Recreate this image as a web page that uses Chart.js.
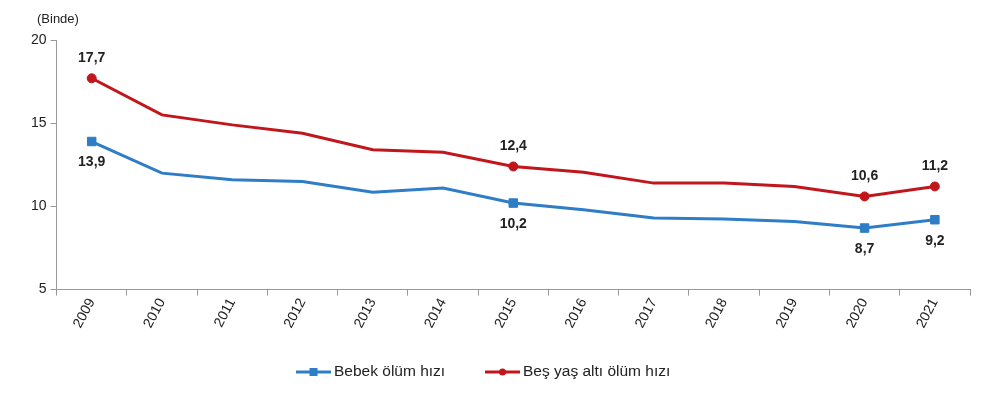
<!DOCTYPE html>
<html><head><meta charset="utf-8">
<script src="https://cdn.jsdelivr.net/npm/chart.js@4.4.1/dist/chart.umd.min.js"></script>
<style>html,body{margin:0;padding:0;background:#fff}#wrap{width:1000px;height:396px}</style>
</head><body><div id="wrap"><canvas id="c"></canvas></div>
<script>
const years = ['2009','2010','2011','2012','2013','2014','2015','2016','2017','2018','2019','2020','2021'];
const bebek = [13.9,12.0,11.6,11.5,10.85,11.1,10.2,9.8,9.3,9.25,9.1,8.7,9.2];
const besYas = [17.7,15.5,14.9,14.4,13.4,13.25,12.4,12.05,11.4,11.4,11.2,10.6,11.2];
const labeledIdx = [0,6,11,12];
const yTicks = [5,10,15,20];
const unitLabel = '(Binde)';
const seriesNames = ['Bebek ölüm hızı','Beş yaş altı ölüm hızı'];

const BLUE = '#2e7dc6', RED = '#c0161c';
const FONT = "'Liberation Sans', Arial, sans-serif";
const radiiB = years.map((_,i)=> labeledIdx.includes(i) ? 6 : 0);
const radiiR = years.map((_,i)=> labeledIdx.includes(i) ? 4.5 : 0);

const extras = {
  id:'extras',
  afterDatasetsDraw(chart){
    const ctx = chart.ctx;
    ctx.save();
    ctx.font = 'bold 14px ' + FONT;
    ctx.fillStyle = '#222';
    ctx.textAlign = 'center';
    ctx.textBaseline = 'middle';
    chart.data.datasets.forEach((ds,di)=>{
      const meta = chart.getDatasetMeta(di);
      labeledIdx.forEach(i=>{
        const p = meta.data[i];
        const off = di===1 ? -20 : 21;
        ctx.fillText(ds.data[i].toFixed(1).replace('.',','), p.x, p.y+off);
      });
    });
    ctx.font = '13px ' + FONT;
    ctx.textAlign = 'left';
    ctx.fillStyle = '#222';
    ctx.fillText(unitLabel, 37, 19);
    const ly = 372;
    const items = [{c:BLUE, s:'rect', x:296, t:seriesNames[0]},{c:RED, s:'circle', x:485, t:seriesNames[1]}];
    items.forEach(it=>{
      ctx.strokeStyle = it.c; ctx.fillStyle = it.c; ctx.lineWidth = 3;
      ctx.beginPath(); ctx.moveTo(it.x, ly); ctx.lineTo(it.x+35, ly); ctx.stroke();
      if(it.s==='rect'){ ctx.fillRect(it.x+13.5, ly-4, 8, 8); }
      else { ctx.beginPath(); ctx.arc(it.x+17.5, ly, 3.5, 0, Math.PI*2); ctx.fill(); }
      ctx.fillStyle = '#222';
      ctx.font = '15.5px ' + FONT;
      ctx.fillText(it.t, it.x+38, ly);
    });
    ctx.restore();
  }
};

new Chart(document.getElementById('c'), {
  type:'line',
  data:{
    labels: years,
    datasets:[
      {label:seriesNames[0], data:bebek, borderColor:BLUE, backgroundColor:BLUE, borderWidth:3,
       pointStyle:'rect', pointRadius:radiiB, pointHoverRadius:radiiB, pointBorderWidth:1, tension:0},
      {label:seriesNames[1], data:besYas, borderColor:RED, backgroundColor:RED, borderWidth:3,
       pointStyle:'circle', pointRadius:radiiR, pointHoverRadius:radiiR, pointBorderWidth:1, tension:0}
    ]
  },
  options:{
    responsive:true, maintainAspectRatio:false, animation:false,
    layout:{padding:{left:27,right:30,top:40,bottom:65}},
    plugins:{legend:{display:false}, tooltip:{enabled:false}},
    scales:{
      x:{
        offset:true,
        grid:{offset:true, drawOnChartArea:false, drawTicks:true, tickLength:6, color:'#999'},
        border:{color:'#999', width:1},
        ticks:{color:'#222', font:{family:FONT, size:14}, minRotation:62, maxRotation:62, padding:0}
      },
      y:{
        min:5, max:20,
        afterBuildTicks(s){ s.ticks = yTicks.map(v=>({value:v})); },
        grid:{drawOnChartArea:false, drawTicks:true, tickLength:6, color:'#999'},
        border:{color:'#999', width:1},
        ticks:{color:'#222', font:{family:FONT, size:14}, padding:4}
      }
    }
  },
  plugins:[extras]
});
</script></body></html>
